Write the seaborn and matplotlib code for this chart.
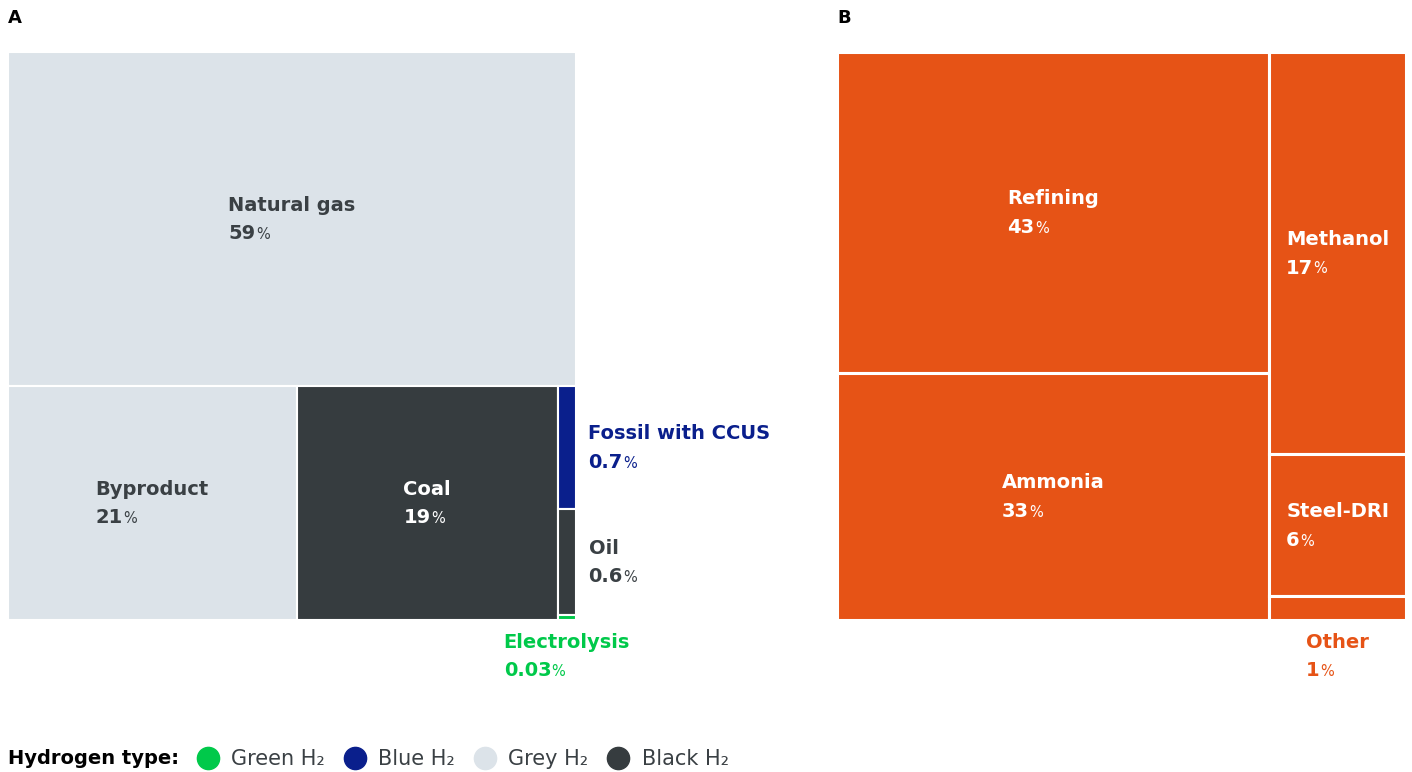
import matplotlib
matplotlib.use('Agg')
import matplotlib.pyplot as plt
import seaborn as sns
from matplotlib.patches import Rectangle
from matplotlib.lines import Line2D

# Data
source_names = ["Natural gas", "Byproduct", "Coal", "Fossil with CCUS", "Oil", "Electrolysis"]
source_shares = [59, 21, 19, 0.7, 0.6, 0.03]
source_types = ["Grey", "Grey", "Black", "Blue", "Black", "Green"]
source_tree = [0, [1, 2, [3, 4, 5]]]
source_label_pos = ["in", "in", "in", "right", "right", "below"]

use_names = ["Refining", "Ammonia", "Methanol", "Steel-DRI", "Other"]
use_shares = [43, 33, 17, 6, 1]
use_tree = [[0, 1], [2, 3, 4]]
use_label_pos = ["in", "in", "in", "in", "below"]

legend_types = ["Green", "Blue", "Grey", "Black"]

type_colors = {"Green": "#00c94a", "Blue": "#0a1f8c", "Grey": "#dce3e9", "Black": "#363c3f"}
orange = "#e65316"
dark_text = "#3a4044"

sns.set_theme(style='white')
plt.rcParams['font.family'] = ['DejaVu Sans']


def node_total(node, shares):
    if isinstance(node, int):
        return shares[node]
    return sum(node_total(c, shares) for c in node)


def layout(node, shares, x, y, w, h, vertical, out):
    """Slice-and-dice treemap, direction alternates per level."""
    if isinstance(node, int):
        out[node] = (x, y, w, h)
        return out
    total = node_total(node, shares)
    pos = 0.0
    for child in node:
        frac = node_total(child, shares) / total
        if vertical:
            layout(child, shares, x, y + pos * h, w, frac * h, not vertical, out)
        else:
            layout(child, shares, x + pos * w, y, frac * w, h, not vertical, out)
        pos += frac
    return out


def fmt(v):
    return f"{v:g}"


def draw_label(ax, name, value, rect, where, color):
    x, y, w, h = rect
    if where == "in":
        anchor = (x + w / 2, y + h / 2)
        name_t = ax.annotate(name, anchor, xytext=(0, 10), textcoords='offset points',
                             ha='center', va='center', fontsize=14, fontweight='bold', color=color)
    elif where == "right":
        anchor = (x + w, y + h / 2)
        name_t = ax.annotate(name, anchor, xytext=(9, 10), textcoords='offset points',
                             ha='left', va='center', fontsize=14, fontweight='bold', color=color,
                             annotation_clip=False)
    else:
        anchor = (x + w / 2, y + h)
        name_t = ax.annotate(name, anchor, xytext=(0, -16), textcoords='offset points',
                             ha='center', va='center', fontsize=14, fontweight='bold', color=color,
                             annotation_clip=False)
    num_t = ax.annotate(fmt(value), xy=(0, 0), xycoords=name_t, xytext=(0, -7),
                        textcoords='offset points', ha='left', va='top',
                        fontsize=14, fontweight='bold', color=color)
    ax.annotate("%", xy=(1, 0), xycoords=num_t, xytext=(0.3, 0.8), textcoords='offset points',
                ha='left', va='bottom', fontsize=10.5, color=color)


fig = plt.figure(figsize=(14.12, 7.72), dpi=100)
axA = fig.add_axes([8 / 1412, 152 / 772, 568 / 1412, 568 / 772])
axB = fig.add_axes([837 / 1412, 152 / 772, 569 / 1412, 568 / 772])

# Panel A: production sources
rectsA = layout(source_tree, source_shares, 0, 0, 1, 1, True, {})
for i, name in enumerate(source_names):
    fill = type_colors[source_types[i]]
    axA.add_patch(Rectangle(rectsA[i][:2], rectsA[i][2], rectsA[i][3],
                            facecolor=fill, edgecolor='white', linewidth=1.5))
    if source_label_pos[i] == "in":
        txt = dark_text if source_types[i] == "Grey" else "white"
    else:
        txt = dark_text if source_types[i] == "Black" else fill
    draw_label(axA, name, source_shares[i], rectsA[i], source_label_pos[i], txt)

# Panel B: end uses
rectsB = layout(use_tree, use_shares, 0, 0, 1, 1, False, {})
for i, name in enumerate(use_names):
    axB.add_patch(Rectangle(rectsB[i][:2], rectsB[i][2], rectsB[i][3],
                            facecolor=orange, edgecolor='white', linewidth=2.2))
    txt = "white" if use_label_pos[i] == "in" else orange
    draw_label(axB, name, use_shares[i], rectsB[i], use_label_pos[i], txt)

for ax in (axA, axB):
    ax.set_xlim(0, 1)
    ax.set_ylim(1, 0)
    ax.axis('off')

fig.text(8 / 1412, 1 - 18 / 772, "A", fontsize=13, fontweight='bold', color='black', va='center')
fig.text(837 / 1412, 1 - 18 / 772, "B", fontsize=13, fontweight='bold', color='black', va='center')

# Legend
fig.text(8 / 1412, 1 - 759 / 772, "Hydrogen type:", fontsize=14, fontweight='bold',
         color='black', va='center')
handles = [Line2D([], [], marker='o', linestyle='', markersize=16,
                  markerfacecolor=type_colors[t], markeredgecolor=type_colors[t])
           for t in legend_types]
labels = [f"{t} H\u2082" for t in legend_types]
leg = fig.legend(handles, labels, loc='center left', bbox_to_anchor=(195 / 1412, 1 - 759 / 772),
                 ncol=4, frameon=False, fontsize=15, handletextpad=0.55, columnspacing=0.8,
                 borderaxespad=0, borderpad=0, handlelength=1.2)
for t in leg.get_texts():
    t.set_color(dark_text)

fig.savefig("out.png", dpi=100)
